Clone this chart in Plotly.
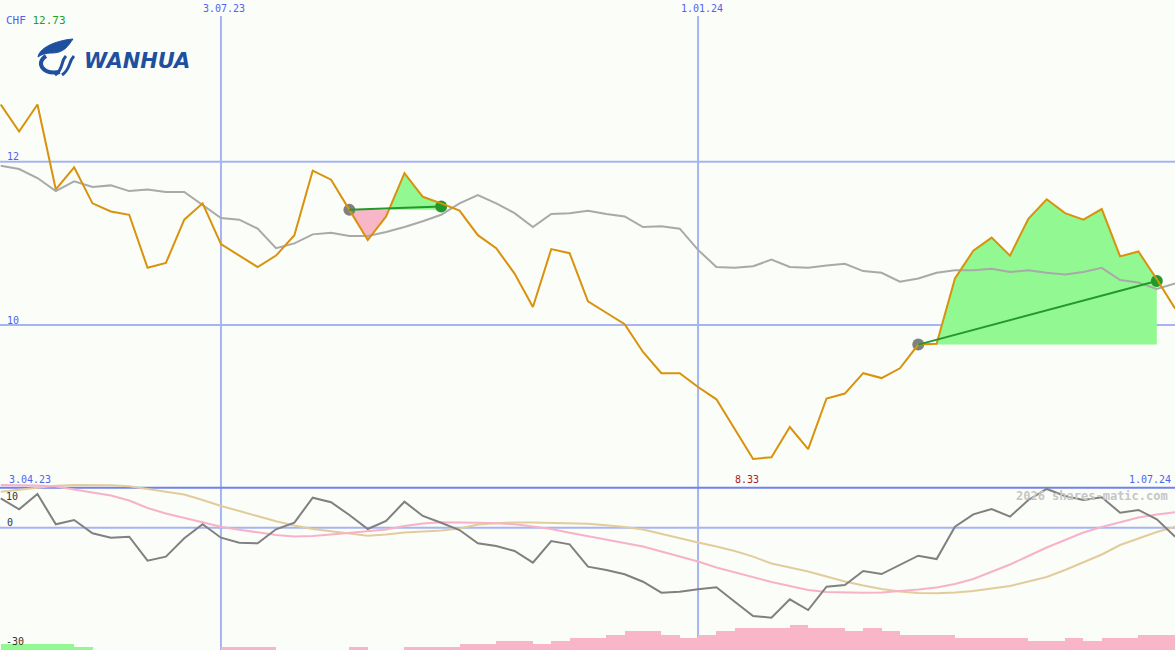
import plotly.graph_objects as go
import pandas as pd

W, H = 1175, 650

# ---------------- data ----------------
dates = pd.date_range("2023-04-10", periods=65, freq="7D")

price = [12.70, 12.37, 12.70, 11.66, 11.93, 11.49, 11.39, 11.35, 10.70, 10.76,
         11.29, 11.49, 10.99, 10.85, 10.71, 10.85, 11.10, 11.89, 11.78, 11.41,
         11.04, 11.33, 11.86, 11.57, 11.49, 11.40, 11.10, 10.94, 10.63, 10.22,
         10.93, 10.88, 10.29, 10.15, 10.01, 9.67, 9.41, 9.41, 9.24, 9.09,
         8.73, 8.36, 8.38, 8.75, 8.48, 9.10, 9.16, 9.41, 9.35, 9.47,
         9.76, 9.77, 10.57, 10.91, 11.07, 10.85, 11.30, 11.54, 11.37, 11.29,
         11.42, 10.84, 10.90, 10.56, 10.20]

avg = [11.95, 11.91, 11.80, 11.64, 11.76, 11.69, 11.71, 11.64, 11.66, 11.63,
       11.63, 11.47, 11.31, 11.29, 11.18, 10.94, 11.00, 11.11, 11.13, 11.09,
       11.09, 11.14, 11.20, 11.27, 11.35, 11.49, 11.59, 11.49, 11.37, 11.20,
       11.36, 11.37, 11.40, 11.36, 11.33, 11.20, 11.21, 11.18, 10.92, 10.71,
       10.70, 10.72, 10.80, 10.71, 10.70, 10.73, 10.75, 10.66, 10.64, 10.53,
       10.57, 10.64, 10.67, 10.67, 10.69, 10.65, 10.67, 10.64, 10.62, 10.65,
       10.70, 10.55, 10.52, 10.44, 10.51]

osc = [7.35, 4.6, 8.43, 0.85, 1.93, -1.4, -2.5, -2.25, -8.25, -7.25,
       -2.65, 0.85, -2.5, -3.75, -3.9, -0.4, 1.25, 7.5, 6.35, 3.18,
       -0.33, 1.7, 6.5, 2.93, 1.25, -0.58, -3.9, -4.58, -5.83, -8.75,
       -3.33, -4.15, -9.75, -10.58, -11.65, -13.5, -16.25, -16.0, -15.4, -14.9,
       -18.5, -22.08, -22.5, -17.9, -20.58, -14.75, -14.33, -10.83, -11.58, -9.33,
       -7.0, -7.83, 0.25, 3.35, 4.68, 2.75, 6.93, 9.68, 7.93, 6.93,
       7.6, 3.75, 4.43, 2.1, -2.25]

osc_fast = [10.68, 10.68, 10.55, 10.3, 9.55, 8.8, 8.05, 6.8, 4.93, 3.55,
            2.43, 1.18, 0.25, -0.5, -1.2, -1.83, -2.2, -2.08, -1.7, -1.33,
            -0.83, -0.45, 0.43, 1.05, 1.35, 1.35, 1.25, 1.1, 0.85, 0.3,
            -0.33, -1.25, -2.08, -2.95, -3.83, -4.7, -5.95, -7.2, -8.45, -9.95,
            -11.2, -12.45, -13.58, -14.58, -15.58, -16.08, -16.25, -16.25, -16.2, -15.9,
            -15.45, -14.95, -14.08, -12.83, -11.08, -9.2, -7.08, -4.95, -3.08, -1.2,
            0.18, 1.43, 2.55, 3.3, 3.85]

osc_slow = [9.0, 9.55, 10.1, 10.48, 10.68, 10.68, 10.63, 10.38, 9.68, 8.83,
            8.3, 6.93, 5.43, 4.18, 2.8, 1.6, 0.55, -0.33, -0.9, -1.45,
            -2.0, -1.7, -1.2, -0.93, -0.7, -0.2, 0.8, 1.13, 1.33, 1.28,
            1.23, 1.15, 0.98, 0.6, 0.18, -0.45, -1.58, -2.58, -3.7, -4.7,
            -5.83, -7.23, -8.95, -9.95, -10.95, -12.2, -13.45, -14.45, -15.33, -15.95,
            -16.3, -16.38, -16.2, -15.83, -15.2, -14.58, -13.45, -12.33, -10.58, -8.58,
            -6.7, -4.33, -2.7, -1.08, 0.25]

hist_neg = [0, 0, 0, 0, 0, 0, 0, 0, 0, 0,
            0, 0, 1, 1, 1, 0, 0, 0, 0, 1,
            0, 0, 1, 1, 1, 2, 2, 3, 3, 2,
            3, 4, 4, 5, 6, 6, 5, 4, 5, 6,
            7, 7, 7, 8, 7, 7, 6, 7, 6, 5,
            5, 5, 4, 4, 4, 4, 3, 3, 4, 3,
            4, 4, 5, 5]
hist_pos = [2, 2, 2, 2, 1] + [0] * 59

sig_start_idx = [19, 50]
sig_end_idx = [24, 63]
sig_start_val = [11.41, 9.76]
sig_end_val = [11.45, 10.54]

grid_levels = [12, 10]
osc_levels = [10, 0]
grid_dates = ["2023-07-03", "2024-01-01"]
top_labels = ["3.07.23", "1.01.24"]
currency = "CHF"
last_quote = "12.73"
low_label = "8.33"
start_label = "3.04.23"
end_label = "1.07.24"
osc_labels = ["10", "0", "-30"]

# ---------------- styling ----------------
BG = "#fbfdf9"
GRID = "#a6b4f2"
SEP = "#7282ea"
ORANGE = "#d8920c"
GRAY = "#a9a9a9"
GREEN_FILL = "#92f892"
PINK_FILL = "#f8b6c8"
SIG_GREEN = "#22992a"
LBL_BLUE = "#5262ee"
MONO = "DejaVu Sans Mono"

WEEK_PX = 18.35
x_start = dates[0] - pd.Timedelta(hours=7)
x_end = x_start + pd.Timedelta(days=7 * W / WEEK_PX)


def xd(f):
    return dates[0] + pd.Timedelta(days=7 * f)


def px(x, y):
    return x / W, 1 - y / H


fig = go.Figure()

# ---------------- signal fills ----------------
for s, e, base in zip(sig_start_idx, sig_end_idx, sig_start_val):
    pts = []
    for k in range(s, e):
        a, b = price[k] - base, price[k + 1] - base
        pts.append((k, price[k]))
        if a * b < 0:
            t = a / (a - b)
            pts.append((k + t, base))
    pts.append((e, price[e]))
    for fn, col in ((max, GREEN_FILL), (min, PINK_FILL)):
        xs = [xd(x) for x, _ in pts] + [xd(e), xd(s)]
        ys = [fn(y, base) for _, y in pts] + [base, base]
        fig.add_trace(go.Scatter(x=xs, y=ys, mode="lines", fill="toself",
                                 fillcolor=col, line=dict(width=0),
                                 hoverinfo="skip", showlegend=False,
                                 xaxis="x", yaxis="y"))

# moving average
fig.add_trace(go.Scatter(x=dates, y=avg, mode="lines",
                         line=dict(color=GRAY, width=2), showlegend=False,
                         xaxis="x", yaxis="y"))

# signal markers
for s, e, v0, v1 in zip(sig_start_idx, sig_end_idx, sig_start_val, sig_end_val):
    fig.add_trace(go.Scatter(x=[dates[s]], y=[v0], mode="markers",
                             marker=dict(color="#808080", size=12),
                             showlegend=False, xaxis="x", yaxis="y"))
    fig.add_trace(go.Scatter(x=[dates[e]], y=[v1], mode="markers",
                             marker=dict(color=SIG_GREEN, size=12),
                             showlegend=False, xaxis="x", yaxis="y"))

# price
fig.add_trace(go.Scatter(x=dates, y=price, mode="lines",
                         line=dict(color=ORANGE, width=2), showlegend=False,
                         xaxis="x", yaxis="y"))

# signal lines
for s, e, v0, v1 in zip(sig_start_idx, sig_end_idx, sig_start_val, sig_end_val):
    fig.add_trace(go.Scatter(x=[dates[s], dates[e]], y=[v0, v1], mode="lines",
                             line=dict(color=SIG_GREEN, width=2),
                             showlegend=False, xaxis="x", yaxis="y"))

# ---------------- lower panel ----------------
bar_x = [d + pd.Timedelta(days=3.5) for d in dates[:-1]]
bar_w = 7 * 86400000
fig.add_trace(go.Bar(x=bar_x, y=hist_neg, width=bar_w,
                     marker=dict(color=PINK_FILL, line=dict(width=0)),
                     showlegend=False, xaxis="x", yaxis="y3"))
fig.add_trace(go.Bar(x=bar_x, y=hist_pos, width=bar_w,
                     marker=dict(color=GREEN_FILL, line=dict(width=0)),
                     showlegend=False, xaxis="x", yaxis="y3"))

fig.add_trace(go.Scatter(x=dates, y=osc_slow, mode="lines",
                         line=dict(color="#e2cc9c", width=2), showlegend=False,
                         xaxis="x", yaxis="y2"))
fig.add_trace(go.Scatter(x=dates, y=osc_fast, mode="lines",
                         line=dict(color="#f8b2c8", width=2), showlegend=False,
                         xaxis="x", yaxis="y2"))
fig.add_trace(go.Scatter(x=dates, y=osc, mode="lines",
                         line=dict(color="#808080", width=2), showlegend=False,
                         xaxis="x", yaxis="y2"))

# ---------------- shapes ----------------
shapes = []
for lv in grid_levels:
    shapes.append(dict(type="line", xref="paper", yref="y", x0=0, x1=1, y0=lv, y1=lv,
                       line=dict(color=GRID, width=2), layer="below"))
for d in grid_dates:
    shapes.append(dict(type="line", xref="x", yref="paper", x0=d, x1=d,
                       y0=0, y1=1 - 16 / H, line=dict(color=GRID, width=2), layer="below"))
for lv, col in zip(osc_levels, (SEP, GRID)):
    shapes.append(dict(type="line", xref="paper", yref="y2", x0=0, x1=1, y0=lv, y1=lv,
                       line=dict(color=col, width=2), layer="below"))


# logo icon (approximate)
def path(cmds):
    out = []
    for c in cmds:
        if isinstance(c, str):
            out.append(c)
        else:
            X, Y = px(*c)
            out.append(f"{X:.5f},{Y:.5f}")
    return " ".join(out)


LOGO = "#1f4f9f"
shapes.append(dict(type="path", xref="paper", yref="paper",
                   path=path(["M", (38, 57), "C", (40, 46), (60, 40), (73, 39),
                              "C", (68, 46), (64, 53), (52, 53), "C", (45, 53), (41, 55), (38, 57), "Z"]),
                   fillcolor=LOGO, line=dict(color=LOGO, width=1)))
shapes.append(dict(type="path", xref="paper", yref="paper",
                   path=path(["M", (46, 56), "C", (36, 62), (41, 75), (60, 72)]),
                   line=dict(color=LOGO, width=4)))
shapes.append(dict(type="path", xref="paper", yref="paper",
                   path=path(["M", (66, 56), "C", (60, 62), (64, 69), (55, 75)]),
                   line=dict(color=LOGO, width=3)))
shapes.append(dict(type="path", xref="paper", yref="paper",
                   path=path(["M", (74, 56), "C", (68, 62), (71, 69), (62, 75)]),
                   line=dict(color=LOGO, width=3)))

# ---------------- annotations ----------------
ann = []


def label(text, x, y, color=LBL_BLUE, size=10, xanchor="left", bold=False):
    X, Y = px(x, y)
    ann.append(dict(text=f"<b>{text}</b>" if bold else text, x=X, y=Y,
                    xref="paper", yref="paper",
                    xanchor=xanchor, yanchor="middle", showarrow=False,
                    font=dict(family=MONO, size=size, color=color)))


label(f"<span style='color:{LBL_BLUE}'>{currency}</span> "
      f"<span style='color:#22a02a'>{last_quote}</span>", 4, 20, size=11)
label(top_labels[0], 224, 9, xanchor="center")
label(top_labels[1], 702, 9, xanchor="center")
label(str(grid_levels[0]), 5, 156)
label(str(grid_levels[1]), 5, 320)
label(start_label, 7, 479)
label(low_label, 747, 479, color="#aa2222", xanchor="center")
label(end_label, 1173, 479, xanchor="right")
label(osc_labels[0], 4, 496, color="#333333")
label(osc_labels[1], 5, 522, color="#333333")
label(osc_labels[2], 4, 641, color="#333333")
label("2026 shares-matic.com", 1170, 496, color="#c6c6c6", size=12, xanchor="right", bold=True)

X, Y = px(82, 61)
ann.append(dict(text="<b><i>WANHUA</i></b>", x=X, y=Y, xref="paper", yref="paper",
                xanchor="left", yanchor="middle", showarrow=False,
                font=dict(family="DejaVu Sans", size=21, color=LOGO)))

# ---------------- layout ----------------
main_bottom = 487
main_lo = 12 - (main_bottom - 161.7) / 81.65
main_hi = 12 + 161.7 / 81.65
low_top = 470
fig.update_layout(
    width=W, height=H, autosize=False,
    margin=dict(l=0, r=0, t=0, b=0, pad=0),
    paper_bgcolor=BG, plot_bgcolor="rgba(0,0,0,0)",
    showlegend=False, bargap=0, barmode="overlay",
    xaxis=dict(range=[x_start, x_end], visible=False, showgrid=False, zeroline=False),
    yaxis=dict(domain=[1 - main_bottom / H, 1], range=[main_lo, main_hi],
               visible=False, showgrid=False, zeroline=False),
    yaxis2=dict(domain=[0, (H - low_top) / H],
                range=[10 - (H - 487.7) / 4, 10 + (487.7 - low_top) / 4],
                visible=False, showgrid=False, zeroline=False),
    yaxis3=dict(domain=[0, (H - low_top) / H], range=[0, (H - low_top) / 3.1],
                overlaying="y2", visible=False, showgrid=False, zeroline=False),
    shapes=shapes, annotations=ann,
)

fig.write_html("out.html", config={"displayModeBar": False},
               post_script="document.body.style.margin='0';document.body.style.padding='0';"
                           "document.body.style.background='" + BG + "';")
